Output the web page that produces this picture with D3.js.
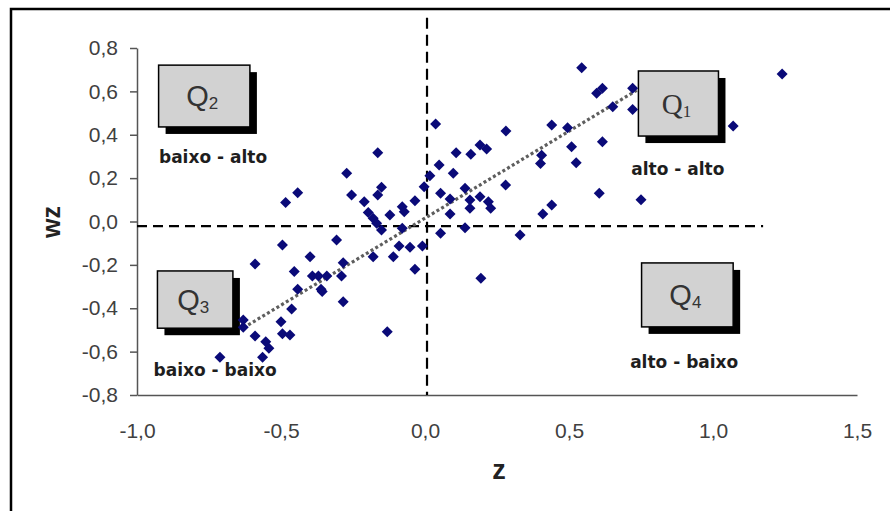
<!DOCTYPE html>
<html>
<head>
<meta charset="utf-8">
<script src="https://cdn.jsdelivr.net/npm/d3@7"></script>
<style>
  body { margin: 0; background: #fff; }
  svg { display: block; font-family: "Liberation Sans", Arial, sans-serif; }
</style>
</head>
<body>
<svg id="chart" width="890" height="511"></svg>
<script>
// z values (x) and wz values (y)
var zVals = [1.24, 1.07, 0.75, 0.544, 0.596, 0.616, 0.721, 0.652, 0.721, 0.037,
             0.281, 0.44, 0.495, 0.616, 0.509, 0.525, 0.108, 0.159, 0.191, 0.214,
             0.049, 0.017, -0.003, 0.098, 0.054, 0.087, 0.139, 0.156, 0.156, 0.191,
             0.22, 0.228, 0.087, 0.28, 0.405, 0.401, 0.44, 0.409, 0.605, 0.054,
             0.139, 0.33, 0.194,
             -0.164, -0.272, -0.442, -0.484, -0.255, -0.211, -0.164, -0.151, -0.197, -0.18,
             -0.168, -0.151, -0.122, -0.079, -0.072, -0.035, -0.079, -0.307, -0.495, -0.59,
             -0.399, -0.454, -0.284, -0.391, -0.37, -0.341, -0.29, -0.442, -0.361, -0.357,
             -0.284, -0.463, -0.5, -0.631, -0.631, -0.59, -0.495, -0.469, -0.553, -0.542,
             -0.564, -0.712, -0.131, -0.18, -0.11, -0.09, -0.052, -0.009, -0.035];
var wzVals = [0.68, 0.44, 0.10, 0.709, 0.591, 0.614, 0.614, 0.529, 0.517, 0.449,
              0.417, 0.445, 0.432, 0.368, 0.345, 0.271, 0.317, 0.31, 0.353, 0.334,
              0.26, 0.211, 0.16, 0.222, 0.13, 0.104, 0.153, 0.099, 0.061, 0.114,
              0.091, 0.061, 0.035, 0.168, 0.306, 0.268, 0.076, 0.035, 0.13, -0.054,
              -0.029, -0.062, -0.262,
              0.317, 0.222, 0.133, 0.088, 0.122, 0.091, 0.122, 0.158, 0.041, 0.015,
              -0.008, -0.039, 0.03, 0.068, 0.045, 0.096, -0.031, -0.085, -0.108, -0.196,
              -0.162, -0.231, -0.19, -0.251, -0.251, -0.251, -0.251, -0.312, -0.312, -0.323,
              -0.37, -0.403, -0.462, -0.454, -0.488, -0.528, -0.518, -0.523, -0.554, -0.584,
              -0.626, -0.626, -0.508, -0.162, -0.162, -0.113, -0.119, -0.113, -0.22];

var xTicks = [-1.0, -0.5, 0.0, 0.5, 1.0, 1.5];
var yTicks = [-0.8, -0.6, -0.4, -0.2, 0.0, 0.2, 0.4, 0.6, 0.8];

// trend line end points, and the two dashed quadrant lines
var trendZ  = [-0.63, 0.735];
var trendWz = [-0.49, 0.605];
var vLineZ  = [0.007, 0.007];
var vLineWz = [0.94, -0.8];
var hLineZ  = [-1.0, 1.174];
var hLineWz = [-0.021, -0.021];

// quadrant boxes: name, subscript, corner points in data units
var quadNames = ['Q', 'Q', 'Q', 'Q'];
var quadSubs  = ['1', '2', '3', '4'];
var quadZ0    = [0.741, -0.925, -0.929, 0.752];
var quadZ1    = [1.019, -0.608, -0.667, 1.070];
var quadWz0   = [0.694, 0.721, -0.228, -0.191];
var quadWz1   = [0.394, 0.436, -0.492, -0.486];
var quadLabels = ['alto - alto', 'baixo - alto', 'baixo - baixo', 'alto - baixo'];
var labelZ     = [0.878, -0.736, -0.729, 0.9];
var labelWz    = [0.214, 0.27, -0.713, -0.675];

var svg = d3.select('#chart');

var x = d3.scaleLinear().domain([-1, 1.5]).range([137, 857]);
var y = d3.scaleLinear().domain([-0.8, 0.8]).range([395, 48]);

var fmt = function(d) { return d3.format('.1f')(d).replace('.', ',').replace('\u2212', '-'); };

// outer frame (cut off at the right and the bottom)
svg.append('rect')
   .attr('x', 11).attr('y', 9)
   .attr('width', 900).attr('height', 520)
   .attr('fill', 'none').attr('stroke', '#000').attr('stroke-width', 2.5);

// axes
var yAxis = svg.append('g')
   .attr('transform', 'translate(' + x(-1) + ',0)')
   .call(d3.axisLeft(y).tickValues(yTicks).tickFormat(fmt)
           .tickSizeInner(7).tickSizeOuter(0).tickPadding(12));
var xAxis = svg.append('g')
   .attr('transform', 'translate(0,' + y(-0.8) + ')')
   .call(d3.axisBottom(x).tickValues(xTicks).tickFormat(fmt)
           .tickSizeInner(0).tickSizeOuter(0).tickPadding(28));
[xAxis, yAxis].forEach(function(a) {
  a.select('.domain').attr('stroke', '#555').attr('stroke-width', 1.5);
  a.selectAll('.tick line').attr('stroke', '#555').attr('stroke-width', 1.5);
  a.selectAll('.tick text')
   .attr('fill', '#404040')
   .style('font-size', '21px')
   .style('font-family', '"Liberation Sans", Arial, sans-serif');
});

// axis titles
svg.append('text')
   .attr('transform', 'translate(60,222) rotate(-90)')
   .attr('text-anchor', 'middle')
   .style('font-size', '25px').style('font-weight', 'bold')
   .attr('fill', '#222')
   .text('wz');
svg.append('text')
   .attr('x', 499).attr('y', 479)
   .attr('text-anchor', 'middle')
   .style('font-size', '27px').style('font-weight', 'bold')
   .attr('fill', '#222')
   .text('z');

var line = d3.line()
   .x(function(d) { return x(d[0]); })
   .y(function(d) { return y(d[1]); });

// quadrant dividers
svg.append('path')
   .attr('d', line(d3.zip(vLineZ, vLineWz)))
   .attr('stroke', '#000').attr('stroke-width', 2.2)
   .attr('stroke-dasharray', '11,6').attr('fill', 'none');
svg.append('path')
   .attr('d', line(d3.zip(hLineZ, hLineWz)))
   .attr('stroke', '#000').attr('stroke-width', 2.2)
   .attr('stroke-dasharray', '10,6').attr('fill', 'none');

// trend line
svg.append('path')
   .attr('d', line(d3.zip(trendZ, trendWz)))
   .attr('stroke', '#5e5e5e').attr('stroke-width', 3.2)
   .attr('stroke-dasharray', '3,2.5').attr('fill', 'none');

// quadrant boxes
var quads = d3.range(4).map(function(i) {
  return { name: quadNames[i], sub: quadSubs[i],
           x0: x(quadZ0[i]), x1: x(quadZ1[i]), y0: y(quadWz0[i]), y1: y(quadWz1[i]) };
});
var qg = svg.selectAll('g.quad').data(quads).enter().append('g').attr('class', 'quad');
qg.append('rect')
  .attr('x', function(d) { return d.x0 + 7; })
  .attr('y', function(d) { return d.y0 + 7; })
  .attr('width', function(d) { return d.x1 - d.x0; })
  .attr('height', function(d) { return d.y1 - d.y0; })
  .attr('fill', '#000');
qg.append('rect')
  .attr('x', function(d) { return d.x0; })
  .attr('y', function(d) { return d.y0; })
  .attr('width', function(d) { return d.x1 - d.x0; })
  .attr('height', function(d) { return d.y1 - d.y0; })
  .attr('fill', '#d2d2d2').attr('stroke', '#000').attr('stroke-width', 1.5);
var qt = qg.append('text')
  .attr('x', function(d) { return (d.x0 + d.x1) / 2 - 2; })
  .attr('y', function(d) { return (d.y0 + d.y1) / 2 + 10; })
  .attr('text-anchor', 'middle')
  .attr('fill', '#333')
  .style('font-family', function(d) {
    return d.sub === '1' ? '"Liberation Serif", "Times New Roman", serif' : '"Liberation Sans", Arial, sans-serif';
  });
qt.append('tspan').style('font-size', '29px').text(function(d) { return d.name; });
qt.append('tspan').style('font-size', '17px').attr('dy', 3).text(function(d) { return d.sub; });

// quadrant captions
svg.selectAll('text.qlabel').data(quadLabels).enter().append('text')
   .attr('class', 'qlabel')
   .attr('x', function(d, i) { return x(labelZ[i]); })
   .attr('y', function(d, i) { return y(labelWz[i]); })
   .attr('text-anchor', 'middle')
   .attr('fill', '#1e1e1e')
   .style('font-size', '17px').style('font-weight', 'bold')
   .style('font-family', '"DejaVu Sans", Verdana, sans-serif')
   .text(function(d) { return d; });

// points
var pts = d3.zip(zVals, wzVals);
svg.selectAll('path.pt').data(pts).enter().append('path')
   .attr('class', 'pt')
   .attr('transform', function(d) { return 'translate(' + x(d[0]) + ',' + y(d[1]) + ')'; })
   .attr('d', 'M0,-5.5L5.5,0L0,5.5L-5.5,0Z')
   .attr('fill', '#0a0a78');
</script>
</body>
</html>
